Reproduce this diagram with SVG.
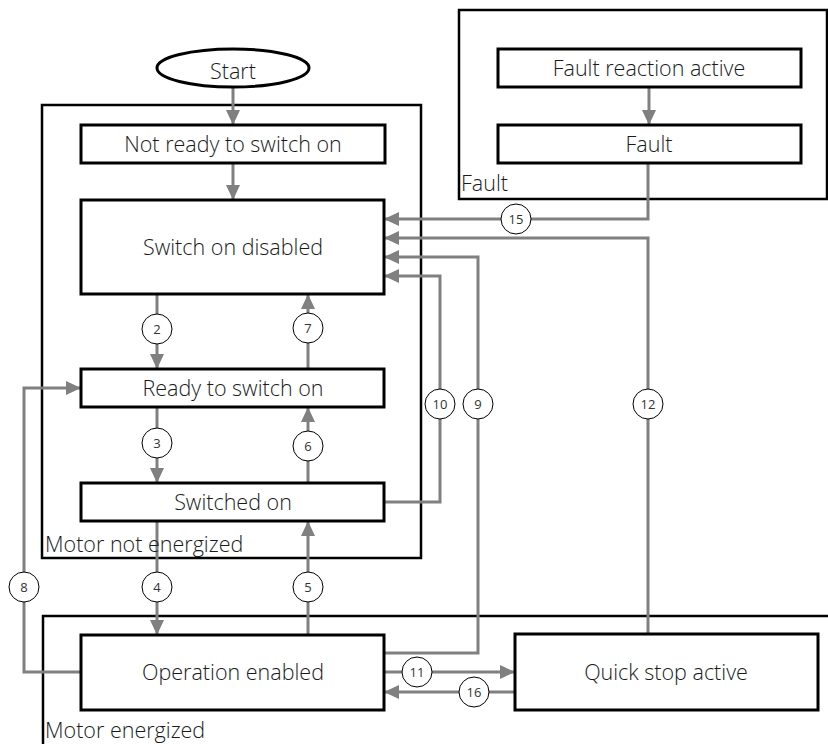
<svg xmlns="http://www.w3.org/2000/svg" width="828" height="744" viewBox="0 0 828 744">
<defs>
<style>
.box{fill:#fff;stroke:#000;stroke-width:3}
.cont{fill:none;stroke:#000;stroke-width:2.5}
.lbl{font-family:"Open Sans","Liberation Sans",sans-serif;font-weight:300;font-size:21.5px;fill:#1a1a1a}
.ctext{font-family:"Open Sans","Liberation Sans",sans-serif;font-weight:300;font-size:21.5px;fill:#1a1a1a;text-anchor:middle}
.c{fill:#fff;stroke:#000;stroke-width:1}
.n{font-family:"Open Sans","Liberation Sans",sans-serif;font-size:13px;fill:#333;text-anchor:middle}
.conn path{fill:none;stroke:#808080;stroke-width:3}
.arr{marker-end:url(#ah)}
</style>
<marker id="ah" markerUnits="userSpaceOnUse" markerWidth="16" markerHeight="16" refX="15" refY="7" orient="auto">
<path d="M0,0 L15,7 L0,14 z" fill="#808080"/>
</marker>
</defs>
<rect width="828" height="744" fill="#fff"/>
<g id="containers">
<rect class="cont" x="42" y="105" width="379" height="453"/>
<rect class="cont" x="459" y="10" width="368" height="189"/>
<rect class="cont" x="43" y="616" width="800" height="140"/>
</g>
<g id="connectors" class="conn">
<path class="arr" d="M233,87 V125"/>
<path class="arr" d="M233,163 V200"/>
<path class="arr" d="M649,87 V125"/>
<path class="arr" d="M157,294 V369"/>
<path class="arr" d="M308,369 V294"/>
<path class="arr" d="M157,407 V483"/>
<path class="arr" d="M308,483 V407"/>
<path class="arr" d="M157,521 V635"/>
<path class="arr" d="M308,635 V521"/>
<path class="arr" d="M81,672 H24 V388 H81"/>
<path class="arr" d="M384,502 H440 V276 H384"/>
<path class="arr" d="M384,653 H478 V257 H384"/>
<path class="arr" d="M648,634 V238 H384"/>
<path class="arr" d="M648,163 V219 H384"/>
<path class="arr" d="M384,672 H515"/>
<path class="arr" d="M515,692 H384"/>
</g>
<g id="container-labels">
<text class="lbl" x="45" y="552">Motor not energized</text>
<text class="lbl" x="45" y="738">Motor energized</text>
<text class="lbl" x="461" y="191">Fault</text>
</g>
<g id="labels">
<g id="t2"><circle class="c" cx="157" cy="329" r="15"/><text class="n" x="157" y="334">2</text></g>
<g id="t7"><circle class="c" cx="308" cy="328" r="15"/><text class="n" x="308" y="333">7</text></g>
<g id="t3"><circle class="c" cx="157" cy="443" r="15"/><text class="n" x="157" y="448">3</text></g>
<g id="t6"><circle class="c" cx="308" cy="446" r="15"/><text class="n" x="308" y="451">6</text></g>
<g id="t8"><circle class="c" cx="24" cy="587" r="15"/><text class="n" x="24" y="592">8</text></g>
<g id="t4"><circle class="c" cx="157" cy="587" r="15"/><text class="n" x="157" y="592">4</text></g>
<g id="t5"><circle class="c" cx="308" cy="587" r="15"/><text class="n" x="308" y="592">5</text></g>
<g id="t10"><circle class="c" cx="440" cy="404" r="15"/><text class="n" x="440" y="409">10</text></g>
<g id="t9"><circle class="c" cx="478" cy="404" r="15"/><text class="n" x="478" y="409">9</text></g>
<g id="t12"><circle class="c" cx="648" cy="404" r="15"/><text class="n" x="648" y="409">12</text></g>
<g id="t15"><circle class="c" cx="516" cy="219" r="15"/><text class="n" x="516" y="224">15</text></g>
<g id="t11"><circle class="c" cx="417" cy="672" r="15"/><text class="n" x="417" y="677">11</text></g>
<g id="t16"><circle class="c" cx="474" cy="692" r="15"/><text class="n" x="474" y="697">16</text></g>
</g>
<g id="start"><ellipse class="box" cx="233" cy="68" rx="76" ry="19"/><text class="ctext" x="233" y="79">Start</text></g>
<g id="not-ready"><rect class="box" x="81" y="125" width="304" height="38"/><text class="ctext" x="233" y="152">Not ready to switch on</text></g>
<g id="switch-on-disabled"><rect class="box" x="81" y="200" width="303" height="94"/><text class="ctext" x="233" y="255">Switch on disabled</text></g>
<g id="ready"><rect class="box" x="81" y="369" width="303" height="38"/><text class="ctext" x="233" y="396">Ready to switch on</text></g>
<g id="switched-on"><rect class="box" x="81" y="483" width="303" height="38"/><text class="ctext" x="233" y="510">Switched on</text></g>
<g id="operation-enabled"><rect class="box" x="81" y="635" width="303" height="75"/><text class="ctext" x="233" y="680">Operation enabled</text></g>
<g id="quick-stop"><rect class="box" x="515" y="634" width="303" height="76"/><text class="ctext" x="666" y="680">Quick stop active</text></g>
<g id="fault-reaction"><rect class="box" x="498" y="49" width="303" height="38"/><text class="ctext" x="649" y="76">Fault reaction active</text></g>
<g id="fault"><rect class="box" x="498" y="125" width="303" height="38"/><text class="ctext" x="649" y="152">Fault</text></g>
</svg>
